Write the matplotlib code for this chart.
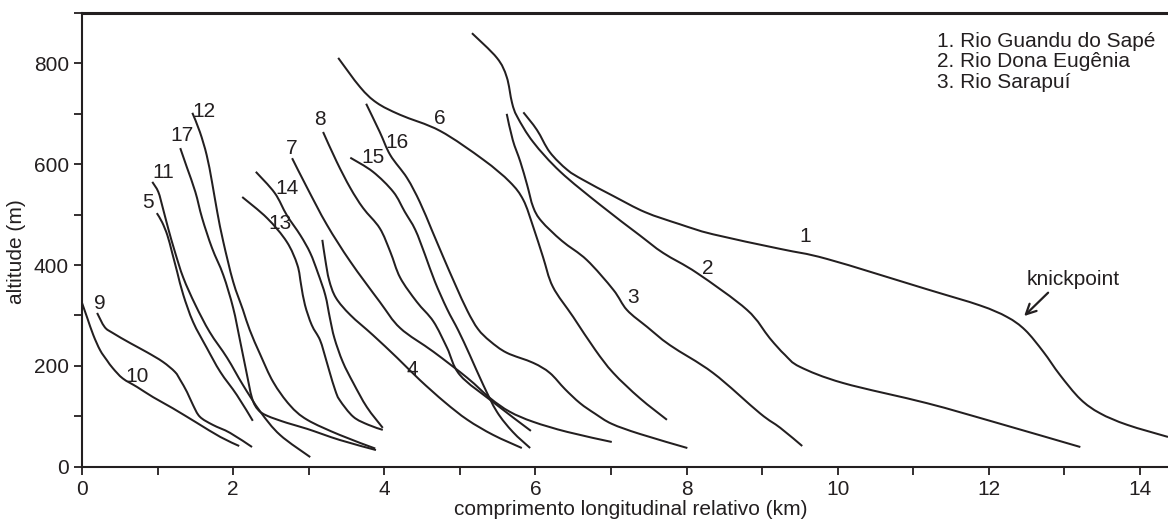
import matplotlib.pyplot as plt
import matplotlib.ticker as mticker
from matplotlib.path import Path
from matplotlib.patches import PathPatch

# =========================
# Longitudinal profiles (x: km, y: m)
# =========================
x1 = [5.84, 6.02, 6.19, 6.42, 6.63, 7.03, 7.45, 7.91, 8.35, 9.24, 9.86, 11.18, 11.88, 12.24, 12.48, 12.72, 12.94, 13.21, 13.47, 13.83, 14.37]
y1 = [703, 668, 624, 589, 569, 537, 505, 481, 461, 432, 412, 352, 320, 297, 271, 228, 182, 134, 106, 83, 59]

x2 = [5.16, 5.49, 5.62, 5.69, 5.76, 5.97, 6.33, 6.86, 7.38, 7.69, 8.14, 8.80, 9.10, 9.30, 9.50, 10.07, 11.18, 12.06, 13.21]
y2 = [860, 811, 773, 722, 694, 644, 585, 519, 459, 424, 384, 311, 255, 222, 198, 166, 126, 89, 39]

x3 = [5.62, 5.70, 5.80, 5.89, 5.97, 6.08, 6.35, 6.68, 7.03, 7.21, 7.48, 7.78, 8.35, 8.97, 9.24, 9.53]
y3 = [700, 648, 605, 559, 515, 487, 448, 410, 351, 311, 277, 241, 186, 106, 77, 41]

x4 = [3.18, 3.22, 3.27, 3.36, 3.55, 3.85, 4.17, 4.47, 4.80, 5.10, 5.44, 5.82]
y4 = [450, 410, 370, 335, 301, 261, 216, 172, 128, 93, 63, 37]

x5 = [0.99, 1.06, 1.13, 1.19, 1.26, 1.34, 1.47, 1.65, 1.83, 2.05, 2.26]
y5 = [503, 485, 459, 426, 386, 341, 287, 236, 188, 142, 91]

x6 = [3.39, 3.68, 3.90, 4.21, 4.74, 5.31, 5.66, 5.84, 5.97, 6.10, 6.23, 6.50, 6.79, 7.03, 7.38, 7.74]
y6 = [811, 753, 722, 698, 666, 609, 565, 529, 476, 416, 357, 297, 232, 186, 136, 93]

x7 = [2.78, 2.98, 3.24, 3.55, 3.94, 4.21, 4.65, 5.10, 5.40, 5.66, 5.97, 6.42, 7.01]
y7 = [612, 553, 480, 407, 327, 275, 228, 176, 136, 109, 89, 69, 49]

x8 = [3.19, 3.37, 3.55, 3.72, 3.94, 4.08, 4.21, 4.43, 4.65, 4.83, 5.00, 5.44, 5.94]
y8 = [664, 605, 553, 513, 473, 426, 375, 327, 288, 236, 182, 128, 71]

x9 = [0.20, 0.30, 0.41, 0.64, 0.86, 1.07, 1.23, 1.30, 1.39, 1.47, 1.56, 1.73, 1.96, 2.25]
y9 = [305, 277, 265, 245, 227, 208, 188, 172, 148, 122, 99, 83, 67, 39]

x10 = [0.00, 0.07, 0.15, 0.24, 0.33, 0.41, 0.54, 0.73, 0.94, 1.20, 1.52, 1.83, 2.08]
y10 = [325, 295, 261, 231, 211, 195, 175, 158, 138, 116, 87, 59, 41]

x11 = [0.93, 1.01, 1.07, 1.14, 1.23, 1.34, 1.50, 1.69, 1.92, 2.13, 2.36, 2.62, 3.02]
y11 = [565, 545, 513, 473, 426, 375, 321, 267, 216, 162, 109, 63, 19]

x12 = [1.46, 1.56, 1.65, 1.72, 1.79, 1.87, 2.00, 2.13, 2.22, 2.36, 2.53, 2.75, 2.98, 3.41, 3.88]
y12 = [702, 664, 618, 565, 505, 446, 367, 311, 271, 222, 168, 122, 93, 63, 36]

x13 = [2.12, 2.45, 2.71, 2.85, 2.90, 2.95, 3.04, 3.15, 3.23, 3.28, 3.35, 3.41, 3.59, 3.79, 3.98]
y13 = [535, 493, 446, 400, 360, 321, 281, 251, 212, 186, 152, 132, 99, 83, 73]

x14 = [2.30, 2.55, 2.71, 2.89, 3.02, 3.12, 3.22, 3.28, 3.34, 3.45, 3.59, 3.77, 3.98]
y14 = [585, 543, 499, 459, 424, 385, 340, 295, 255, 208, 166, 118, 77]

x15 = [3.55, 3.85, 4.12, 4.27, 4.41, 4.54, 4.67, 4.83, 4.98, 5.13, 5.31, 5.49, 5.70, 5.93]
y15 = [613, 585, 545, 506, 470, 420, 367, 313, 270, 222, 162, 109, 69, 37]

x16 = [3.76, 3.94, 4.08, 4.30, 4.47, 4.63, 4.78, 4.94, 5.10, 5.24, 5.40, 5.62, 5.97, 6.19, 6.39, 6.59, 6.79, 7.01, 7.38, 8.01]
y16 = [720, 664, 618, 573, 525, 469, 416, 361, 309, 273, 249, 226, 206, 186, 154, 126, 105, 85, 65, 37]

x17 = [1.30, 1.39, 1.50, 1.59, 1.72, 1.87, 2.00, 2.09, 2.17, 2.25, 2.33, 2.45, 2.71, 2.98, 3.41, 3.89]
y17 = [632, 593, 545, 493, 434, 380, 315, 251, 192, 136, 113, 101, 87, 75, 53, 33]

profiles = [(x1, y1), (x2, y2), (x3, y3), (x4, y4), (x5, y5), (x6, y6), (x7, y7), (x8, y8), (x9, y9),
            (x10, y10), (x11, y11), (x12, y12), (x13, y13), (x14, y14), (x15, y15), (x16, y16), (x17, y17)]

# curve number labels (position in data coords)
label_text = ["1", "2", "3", "4", "5", "6", "7", "8", "9", "10", "11", "12", "13", "14", "15", "16", "17"]
label_x = [9.57, 8.28, 7.29, 4.37, 0.87, 4.74, 2.78, 3.15, 0.24, 0.73, 1.07, 1.61, 2.62, 2.71, 3.85, 4.17, 1.32]
label_y = [456, 393, 335, 192, 525, 690, 632, 688, 323, 178, 584, 704, 483, 552, 614, 643, 658]

legend_lines = ["1. Rio Guandu do Sapé", "2. Rio Dona Eugênia", "3. Rio Sarapuí"]


def smooth_path(xs, ys):
    # cubic Bezier segments through the read points (Catmull-Rom style tangents)
    pts = list(zip(xs, ys))
    n = len(pts)
    verts = [pts[0]]
    codes = [Path.MOVETO]
    for i in range(n - 1):
        p0 = pts[i - 1] if i > 0 else pts[i]
        p1 = pts[i]
        p2 = pts[i + 1]
        p3 = pts[i + 2] if i + 2 < n else pts[i + 1]
        c1 = (p1[0] + (p2[0] - p0[0]) / 6, p1[1] + (p2[1] - p0[1]) / 6)
        c2 = (p2[0] - (p3[0] - p1[0]) / 6, p2[1] - (p3[1] - p1[1]) / 6)
        verts += [c1, c2, p2]
        codes += [Path.CURVE4] * 3
    return Path(verts, codes)


# =========================
# Plot settings
# =========================
ink = "#231f20"
fs = 15
plt.rcParams.update({
    "font.family": ["Liberation Sans", "DejaVu Sans"],
    "font.size": fs,
    "text.color": ink,
    "axes.labelcolor": ink,
    "xtick.color": ink,
    "ytick.color": ink,
})

fig = plt.figure(figsize=(11.68, 5.23), dpi=100)
ax = fig.add_axes([0.0702, 0.1077, 0.9298, 0.8674])

for xs, ys in profiles:
    ax.add_patch(PathPatch(smooth_path(xs, ys), fill=False, ec=ink, lw=1.45,
                           joinstyle="round", capstyle="butt"))

for t, lx, ly in zip(label_text, label_x, label_y):
    ax.text(lx, ly, t, ha="center", va="center", fontsize=fs)

for i, line in enumerate(legend_lines):
    ax.text(11.31, 843 - i * 40, line, ha="left", va="center", fontsize=fs)

# knickpoint arrow
ax.annotate("", xy=(12.44, 295), xytext=(12.81, 349),
            arrowprops=dict(arrowstyle="->", color=ink, lw=1.6, mutation_scale=18))
ax.text(12.50, 372, "knickpoint", ha="left", va="center", fontsize=fs)

ax.set_xlim(0, 14.37)
ax.set_ylim(0, 900)
ax.xaxis.set_major_locator(mticker.MultipleLocator(2))
ax.xaxis.set_minor_locator(mticker.MultipleLocator(1))
ax.yaxis.set_major_locator(mticker.MultipleLocator(200))
ax.yaxis.set_minor_locator(mticker.MultipleLocator(100))
ax.tick_params(which="both", direction="out", length=6, width=1.3)
ax.tick_params(which="major", labelsize=fs)

ax.spines["right"].set_visible(False)
for side in ["left", "bottom"]:
    ax.spines[side].set_linewidth(1.5)
    ax.spines[side].set_color(ink)
ax.spines["top"].set_linewidth(2.2)
ax.spines["top"].set_color(ink)

ax.set_xlabel("comprimento longitudinal relativo (km)", fontsize=fs)
ax.set_ylabel("altitude (m)", fontsize=fs)
ax.xaxis.set_label_coords(0.505, -0.074)
ax.yaxis.set_label_coords(-0.052, 0.475)

plt.savefig("out.png", dpi=100)
